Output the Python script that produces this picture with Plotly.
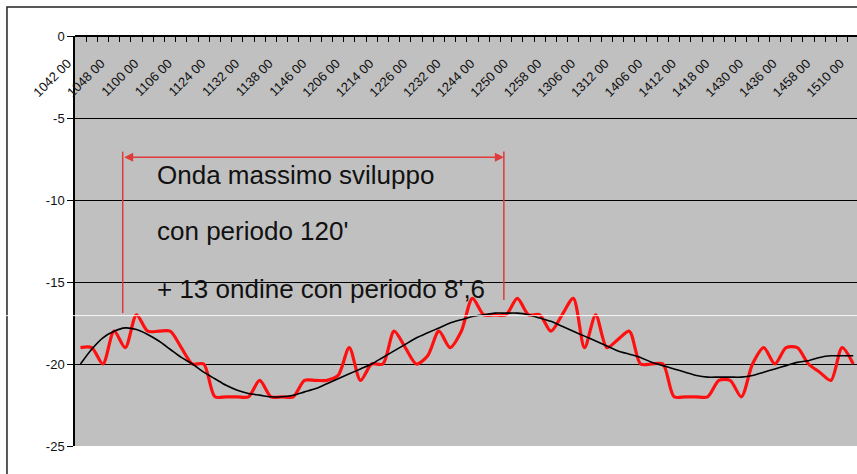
import plotly.graph_objects as go

# ---- data ----
time_labels = ["1042 00", "1048 00", "1100 00", "1106 00", "1124 00", "1132 00",
               "1138 00", "1146 00", "1206 00", "1214 00", "1226 00", "1232 00",
               "1244 00", "1250 00", "1258 00", "1306 00", "1312 00", "1406 00",
               "1412 00", "1418 00", "1430 00", "1436 00", "1458 00", "1510 00"]

misura = [-19, -19, -20, -18, -19, -17, -18, -18, -18, -19,
          -20, -20, -22, -22, -22, -22, -21, -22, -22, -22,
          -21, -21, -21, -20.7, -19, -21, -20, -20, -18, -19,
          -20, -19.5, -18, -19, -18, -16, -17, -17, -17, -16,
          -17, -17, -18, -17, -16, -19, -17, -19, -18.5, -18,
          -20, -20, -20, -22, -22, -22, -22, -21, -21, -22,
          -20, -19, -20, -19, -19, -20, -20.5, -21, -19, -20]

onda = [-20.0, -19.1, -18.4, -18.0, -17.8, -17.9, -18.2, -18.6, -19.1, -19.6,
        -20.0, -20.5, -20.9, -21.3, -21.6, -21.8, -21.9, -22.0, -22.0, -21.9,
        -21.7, -21.5, -21.2, -20.9, -20.6, -20.3, -20.0, -19.6, -19.2, -18.8,
        -18.4, -18.1, -17.8, -17.5, -17.3, -17.1, -17.0, -16.9, -16.9, -16.9,
        -17.0, -17.2, -17.4, -17.7, -18.0, -18.3, -18.6, -18.9, -19.2, -19.4,
        -19.6, -19.9, -20.1, -20.3, -20.5, -20.7, -20.8, -20.8, -20.8, -20.8,
        -20.7, -20.5, -20.3, -20.1, -19.9, -19.8, -19.6, -19.5, -19.5, -19.5]

y_ticks = [0, -5, -10, -15, -20, -25]
y_labels = ["0", "-5", "-10", "-15", "-20", "-25"]

note_lines = ["Onda massimo sviluppo", "con periodo 120'", "+ 13 ondine con periodo 8',6"]

x_idx = list(range(len(misura)))
label_step = 3
label_pos = [i * label_step for i in range(len(time_labels))]
tick_bounds = [i - 0.5 for i in range(len(misura) + 1)]

# bracket (data units)
br_x = [3.77, 37.8]
br_y_top = -7.05
br_y_arrow = -7.4
br_y_bottom = [-16.9, -16.1]
note_x = 6.65
note_y = [-8.5, -11.9, -15.45]

fig = go.Figure()
fig.add_trace(go.Scatter(x=x_idx, y=misura, mode="lines",
                         line=dict(color="#ff1010", width=3.2, shape="spline", smoothing=0.8),
                         hoverinfo="skip", showlegend=False))
fig.add_trace(go.Scatter(x=x_idx, y=onda, mode="lines",
                         line=dict(color="#000000", width=1.6, shape="spline", smoothing=0.8),
                         hoverinfo="skip", showlegend=False))

font_main = "Liberation Sans, Arial, sans-serif"

fig.update_layout(
    width=857, height=474,
    margin=dict(l=75, r=0, t=36, b=28),
    paper_bgcolor="white",
    plot_bgcolor="#c0c0c0",
    showlegend=False,
    font=dict(family=font_main, color="#111111"),
    xaxis=dict(
        range=[-0.49, 69.33],
        anchor="free", position=1, side="bottom",
        showline=True, linecolor="black", linewidth=1.5,
        showgrid=False, zeroline=False,
        tickmode="array", tickvals=label_pos, ticktext=time_labels,
        ticks="outside", ticklen=4, tickcolor="rgba(0,0,0,0)",
        tickangle=-45, tickfont=dict(size=13, family=font_main, color="#111111"),
        ticklabelstandoff=10, ticklabelshift=-13, ticklabeloverflow="allow",
        minor=dict(tickmode="array", tickvals=tick_bounds, ticks="outside",
                   ticklen=5, tickcolor="black", tickwidth=1, showgrid=False),
    ),
    yaxis=dict(
        range=[-25, 0],
        tickmode="array", tickvals=y_ticks, ticktext=y_labels,
        showline=True, linecolor="black", linewidth=1.5,
        ticks="outside", ticklen=6, tickcolor="black",
        showgrid=True, gridcolor="black", gridwidth=1,
        zeroline=False,
        tickfont=dict(size=13, family=font_main, color="#111111"),
    ),
)

# outer chart border (partially cropped like the reference)
fig.add_shape(type="rect", xref="paper", yref="paper",
              x0=-0.087, x1=1.02, y0=-0.12, y1=1.0707,
              line=dict(color="#222222", width=1.5), layer="above")

# white scan line across the image
fig.add_shape(type="line", xref="paper", yref="y",
              x0=-0.2, x1=1.1, y0=-17.05, y1=-17.05,
              line=dict(color="rgba(255,255,255,0.9)", width=1), layer="above")

# bracket: vertical lines + double arrow
for bx, by in zip(br_x, br_y_bottom):
    fig.add_shape(type="line", xref="x", yref="y", x0=bx, x1=bx, y0=br_y_top, y1=by,
                  line=dict(color="#e03a3a", width=1.5))
fig.add_annotation(x=br_x[1], y=br_y_arrow, ax=br_x[0], ay=br_y_arrow,
                   xref="x", yref="y", axref="x", ayref="y", text="",
                   showarrow=True, arrowside="end+start", arrowhead=2,
                   arrowsize=1.2, arrowwidth=1.5, arrowcolor="#e03a3a", standoff=0, startstandoff=0)

for txt, ty in zip(note_lines, note_y):
    fig.add_annotation(x=note_x, y=ty, xref="x", yref="y", text=txt, showarrow=False,
                       xanchor="left", yanchor="middle",
                       font=dict(size=26, family=font_main, color="#111111"))

fig.write_html("out.html", config={"displayModeBar": False},
               post_script="document.body.style.margin='0';document.body.style.overflow='hidden';")
